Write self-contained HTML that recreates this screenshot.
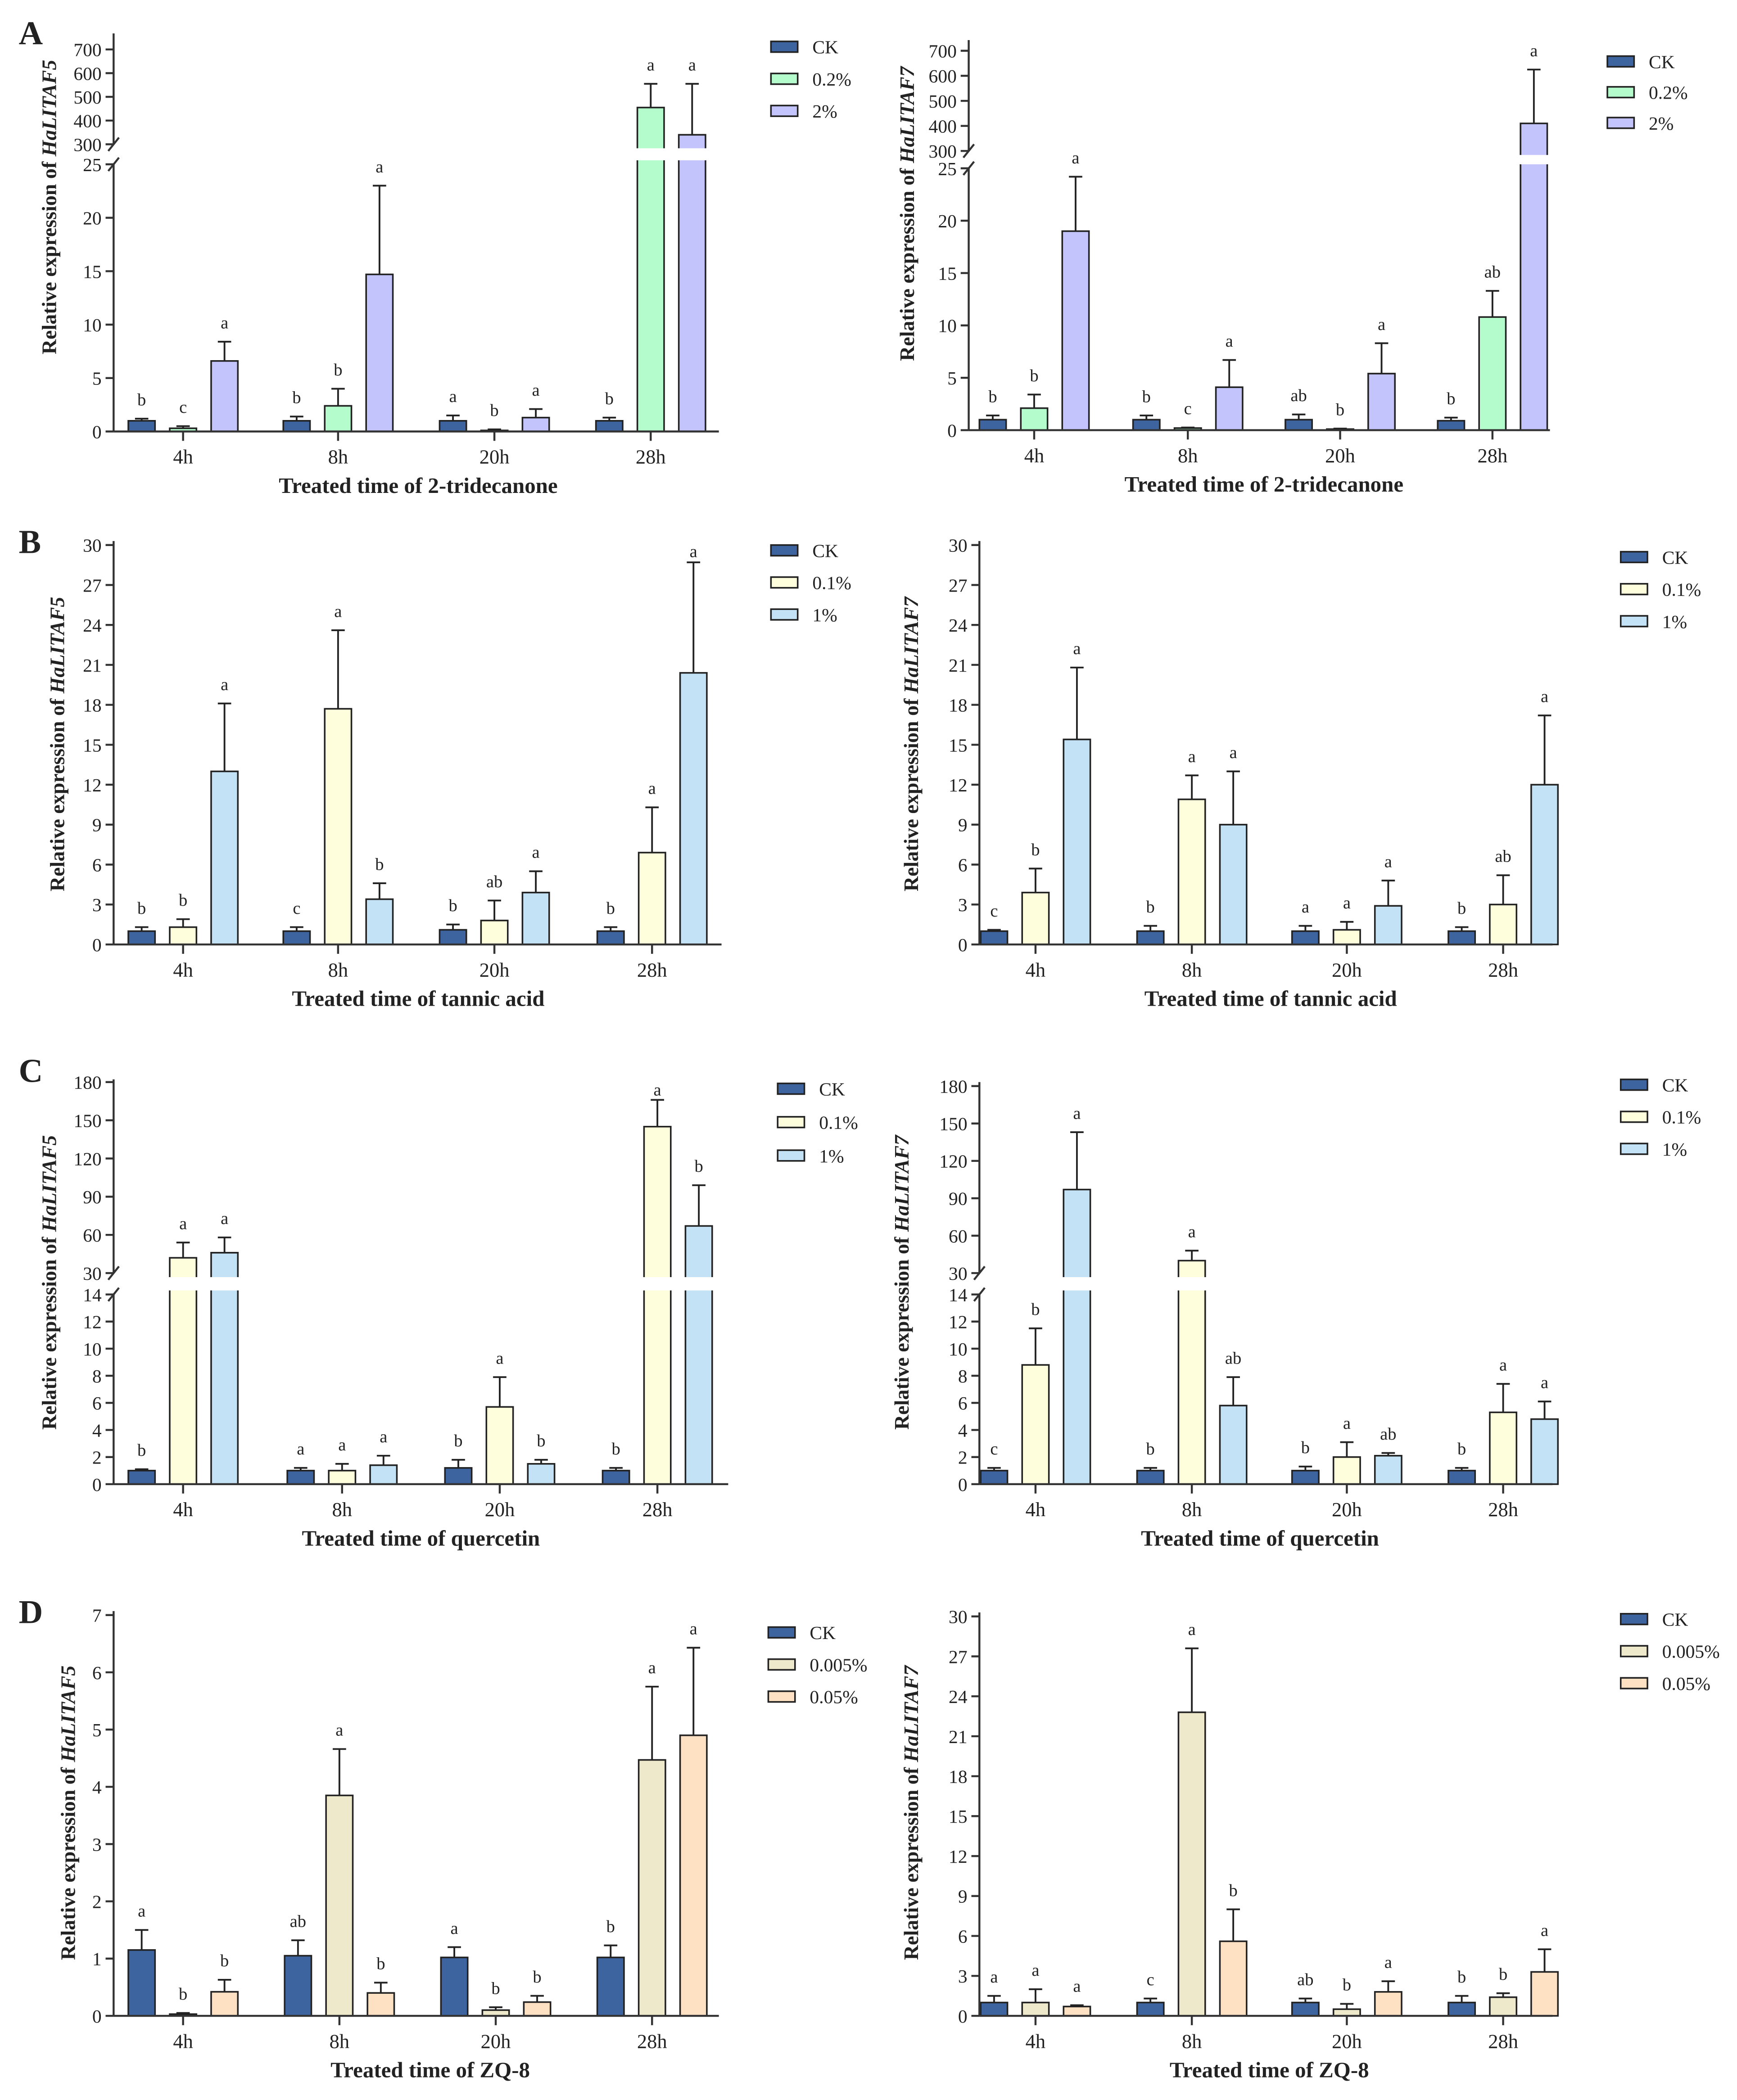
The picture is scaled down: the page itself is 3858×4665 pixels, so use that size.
<!DOCTYPE html>
<html><head><meta charset="utf-8"><style>
html,body{margin:0;padding:0;background:#fff}
svg{display:block}
text{font-family:"Liberation Serif",serif;fill:#222}
</style></head><body>
<svg id="fig" width="3858" height="4665" viewBox="0 0 1300 1572" xmlns="http://www.w3.org/2000/svg"></svg>
<script>
const timeLabels = ["4h","8h","20h","28h"];
// Panel A left (HaLITAF5, 2-tridecanone)
const a5Mean = [[1.0,1.0,1.0,1.0],[0.3,2.4,0.1,455],[6.6,14.7,1.3,340]];
const a5Err  = [[1.2,1.4,1.5,1.3],[0.5,4.0,0.2,555],[8.4,23,2.1,555]];
const a5Let  = [["b","b","a","b"],["c","b","b","a"],["a","a","a","a"]];
// Panel A right (HaLITAF7)
const a7Mean = [[1.0,1.0,1.0,0.9],[2.1,0.2,0.1,10.8],[19,4.1,5.4,410]];
const a7Err  = [[1.4,1.4,1.5,1.2],[3.4,0.25,0.15,13.3],[24.2,6.7,8.3,625]];
const a7Let  = [["b","b","ab","b"],["b","c","b","ab"],["a","a","a","a"]];
// Panel B left
const b5Mean = [[1.0,1.0,1.1,1.0],[1.3,17.7,1.8,6.9],[13.0,3.4,3.9,20.4]];
const b5Err  = [[1.3,1.3,1.5,1.3],[1.9,23.6,3.3,10.3],[18.1,4.6,5.5,28.7]];
const b5Let  = [["b","c","b","b"],["b","a","ab","a"],["a","b","a","a"]];
// Panel B right
const b7Mean = [[1.0,1.0,1.0,1.0],[3.9,10.9,1.1,3.0],[15.4,9.0,2.9,12.0]];
const b7Err  = [[1.1,1.4,1.4,1.3],[5.7,12.7,1.7,5.2],[20.8,13.0,4.8,17.2]];
const b7Let  = [["c","b","a","b"],["b","a","a","ab"],["a","a","a","a"]];
// Panel C left
const c5Mean = [[1.0,1.0,1.2,1.0],[42,1.0,5.7,145],[46,1.4,1.5,67]];
const c5Err  = [[1.1,1.2,1.8,1.2],[54,1.5,7.9,166],[58,2.1,1.8,99]];
const c5Let  = [["b","a","b","b"],["a","a","a","a"],["a","a","b","b"]];
// Panel C right
const c7Mean = [[1.0,1.0,1.0,1.0],[8.8,40,2.0,5.3],[97,5.8,2.1,4.8]];
const c7Err  = [[1.2,1.2,1.3,1.2],[11.5,48,3.1,7.4],[143,7.9,2.3,6.1]];
const c7Let  = [["c","b","b","b"],["b","a","a","a"],["a","ab","ab","a"]];
// Panel D left
const d5Mean = [[1.15,1.05,1.02,1.02],[0.03,3.85,0.1,4.47],[0.42,0.4,0.24,4.9]];
const d5Err  = [[1.5,1.32,1.2,1.23],[0.05,4.66,0.15,5.75],[0.63,0.58,0.35,6.43]];
const d5Let  = [["a","ab","a","b"],["b","a","b","a"],["b","b","b","a"]];
// Panel D right
const d7Mean = [[1.0,1.0,1.0,1.0],[1.0,22.8,0.5,1.4],[0.7,5.6,1.8,3.3]];
const d7Err  = [[1.5,1.3,1.3,1.5],[2.0,27.6,0.9,1.7],[0.8,8.0,2.6,5.0]];
const d7Let  = [["a","c","ab","b"],["a","a","b","b"],["a","b","a","a"]];

const ticksA_low = [0,5,10,15,20,25], ticksA_up = [300,400,500,600,700];
const ticksB = [0,3,6,9,12,15,18,21,24,27,30];
const ticksC_low = [0,2,4,6,8,10,12,14], ticksC_up = [30,60,90,120,150,180];
const ticksD5 = [0,1,2,3,4,5,6,7];
const ticksD7 = [0,3,6,9,12,15,18,21,24,27,30];

const NS="http://www.w3.org/2000/svg";
const svg=document.getElementById('fig');
function mk(tag,attrs,parent){const e=document.createElementNS(NS,tag);for(const k in attrs)e.setAttribute(k,attrs[k]);(parent||svg).appendChild(e);return e;}

function panel(p){
  const g=mk('g',{});
  
  
  function y(v){
    if(!p.up) return p.y0-(v-p.lowMin)*(p.y0-p.lowTopY)/(p.lowMax-p.lowMin);
    if(v<=p.lowMax) return p.y0-v*(p.y0-p.lowTopY)/p.lowMax;
    return p.upBotY-(v-p.upMin)*(p.upBotY-p.upTopY)/(p.upMax-p.upMin);
  }
  const cols=p.colors;
  for(let s=0;s<3;s++){
    for(let i=0;i<4;i++){
      const cx=p.groups[i]+(s-1)*p.off, w=20, v=p.mean[s][i], e=p.err[s][i];
      const top=y(v), L=cx-w/2, R=cx+w/2;
      if(p.up && v>p.lowMax){
        const gb=p.upBotY+3, gt=p.lowTopY-3;
        const b1=mk('rect',{x:L,y:gt,width:w,height:p.y0-gt,fill:cols[s],stroke:'none'},g);
        
        
        const b2=mk('rect',{x:L,y:top,width:w,height:gb-top,fill:cols[s],stroke:'none'},g);
        
        
        const o=mk('path',{d:`M${L} ${gt} V${p.y0} H${R} V${gt} M${L} ${gb} V${top} H${R} V${gb}`,fill:'none',stroke:'#222','stroke-width':1.2},g);
        
        
      } else {
        const b=mk('rect',{x:L,y:top,width:w,height:Math.max(0.5,p.y0-top),fill:cols[s],stroke:'#222','stroke-width':1.2},g);
        
        
      }
      const et=y(e);
      const eb=mk('path',{d:`M${cx} ${top} V${et} M${cx-5} ${et} H${cx+5}`,stroke:'#222','stroke-width':1.3,fill:'none'},g);
      
      
      let ly=Math.max(et-10,p.topY+12);
      const lt=mk('text',{x:cx,y:ly,'text-anchor':'middle','font-size':13},g);
      lt.textContent=p.letters[s][i];
      
      
    }
  }
  const ax=mk('g',{stroke:'#333','stroke-width':1.5,fill:'none'},g);
  
  
  if(p.up){
    mk('path',{d:`M${p.x0} ${p.y0} V${p.lowTopY} M${p.x0} ${p.upBotY} V${p.topY}`},ax);
    mk('path',{d:`M${p.x0-4} ${p.upBotY+5} L${p.x0+4} ${p.upBotY-5} M${p.x0-4} ${p.lowTopY+5} L${p.x0+4} ${p.lowTopY-5}`},ax);
  } else mk('path',{d:`M${p.x0} ${p.y0} V${p.topY}`},ax);
  mk('path',{d:`M${p.x0} ${p.y0} H${p.x1}`},ax);
  const allT=p.ticks.concat(p.ticksUp||[]);
  allT.forEach(t=>{
    const yy=y(t);
    mk('path',{d:`M${p.x0-6} ${yy} H${p.x0}`},ax);
    const tx=mk('text',{x:p.x0-9,y:yy+5,'text-anchor':'end','font-size':14,stroke:'none'},g);
    tx.textContent=t;
    
    
  });
  timeLabels.forEach((l,i)=>{
    mk('path',{d:`M${p.groups[i]} ${p.y0} V${p.y0+7}`},ax);
    const tx=mk('text',{x:p.groups[i],y:p.y0+24,'text-anchor':'middle','font-size':15},g);
    tx.textContent=l;
    
    
  });
  const xt=mk('text',{x:p.xtX,y:p.y0+46,'text-anchor':'middle','font-size':16.5,'font-weight':'bold'},g);
  xt.textContent=p.xTitle;
  
  
  const yt=mk('text',{x:0,y:0,'text-anchor':'middle','font-size':15.5,'font-weight':'bold',transform:`translate(${p.ytX},${p.ytY}) rotate(-90)`},g);
  
  
  yt.appendChild(document.createTextNode('Relative expression of '));
  const ts=mk('tspan',{'font-style':'italic'},yt); ts.textContent=p.gene;
  for(let s=0;s<3;s++){
    const ly=p.legY+s*p.legGap;
    const r=mk('rect',{x:p.legX,y:ly-4,width:20,height:8,fill:cols[s],stroke:'#222','stroke-width':1.2},g);
    
    
    const t=mk('text',{x:p.legX+31,y:ly+5,'font-size':14},g);
    t.textContent=p.seriesLabels[s];
    
    
  }
  if(p.letter){
    const Lb=mk('text',{x:p.letter[0],y:p.letter[1],'font-size':25,'font-weight':'bold'},g);
    Lb.textContent=p.letter[2];
    
    
  }
}
const CK='#3e64a0';
const colA=[CK,'#b4fccc','#c4c4fc'], colB=[CK,'#fefedc','#c4e2f6'], colD=[CK,'#efe9cc','#fee0c2'];
const offs=31;
panel({name:'panel-a-taf5',x0:85,x1:538,y0:323,topY:25,lowMin:0,lowMax:25,lowTopY:123,up:true,upMin:300,upMax:700,upBotY:108,upTopY:37,
  ticks:ticksA_low,ticksUp:ticksA_up,groups:[137,253,370,487],off:offs,mean:a5Mean,err:a5Err,letters:a5Let,colors:colA,
  series:['ck','0.2','2'],seriesLabels:['CK','0.2%','2%'],legX:577,legY:35,legGap:24,xTitle:'Treated time of 2-tridecanone',xtX:313,ytX:42,ytY:155,gene:'HaLITAF5',letter:[14,33,'A']});
panel({name:'panel-a-taf7',x0:725,x1:1160,y0:322,topY:30,lowMin:0,lowMax:25,lowTopY:126,up:true,upMin:300,upMax:700,upBotY:113,upTopY:38,
  ticks:ticksA_low,ticksUp:ticksA_up,groups:[774,889,1003,1117],off:offs,mean:a7Mean,err:a7Err,letters:a7Let,colors:colA,
  series:['ck','0.2','2'],seriesLabels:['CK','0.2%','2%'],legX:1203,legY:46,legGap:23,xTitle:'Treated time of 2-tridecanone',xtX:946,ytX:684,ytY:160,gene:'HaLITAF7'});
panel({name:'panel-b-taf5',x0:85,x1:540,y0:707,topY:405,lowMin:0,lowMax:30,lowTopY:408,
  ticks:ticksB,groups:[137,253,370,488],off:offs,mean:b5Mean,err:b5Err,letters:b5Let,colors:colB,
  series:['ck','0.1','1'],seriesLabels:['CK','0.1%','1%'],legX:577,legY:412,legGap:24,xTitle:'Treated time of tannic acid',xtX:313,ytX:48,ytY:557,gene:'HaLITAF5',letter:[14,414,'B']});
panel({name:'panel-b-taf7',x0:733,x1:1162,y0:707,topY:405,lowMin:0,lowMax:30,lowTopY:408,
  ticks:ticksB,groups:[775,892,1008,1125],off:offs,mean:b7Mean,err:b7Err,letters:b7Let,colors:colB,
  series:['ck','0.1','1'],seriesLabels:['CK','0.1%','1%'],legX:1213,legY:417,legGap:24,xTitle:'Treated time of tannic acid',xtX:951,ytX:687,ytY:557,gene:'HaLITAF7'});
panel({name:'panel-c-taf5',x0:85,x1:545,y0:1111,topY:808,lowMin:0,lowMax:14,lowTopY:969,up:true,upMin:30,upMax:180,upBotY:953,upTopY:810,
  ticks:ticksC_low,ticksUp:ticksC_up,groups:[137,256,374,492],off:offs,mean:c5Mean,err:c5Err,letters:c5Let,colors:colB,
  series:['ck','0.1','1'],seriesLabels:['CK','0.1%','1%'],legX:582,legY:815,legGap:25,xTitle:'Treated time of quercetin',xtX:315,ytX:42,ytY:960,gene:'HaLITAF5',letter:[14,810,'C']});
panel({name:'panel-c-taf7',x0:733,x1:1162,y0:1111,topY:810,lowMin:0,lowMax:14,lowTopY:969,up:true,upMin:30,upMax:180,upBotY:953,upTopY:813,
  ticks:ticksC_low,ticksUp:ticksC_up,groups:[775,892,1008,1125],off:offs,mean:c7Mean,err:c7Err,letters:c7Let,colors:colB,
  series:['ck','0.1','1'],seriesLabels:['CK','0.1%','1%'],legX:1213,legY:812,legGap:24,xTitle:'Treated time of quercetin',xtX:943,ytX:680,ytY:960,gene:'HaLITAF7'});
panel({name:'panel-d-taf5',x0:85,x1:538,y0:1509,topY:1206,lowMin:0,lowMax:7,lowTopY:1209,
  ticks:ticksD5,groups:[137,254,371,488],off:offs,mean:d5Mean,err:d5Err,letters:d5Let,colors:colD,
  series:['ck','0.005','0.05'],seriesLabels:['CK','0.005%','0.05%'],legX:575,legY:1222,legGap:24,xTitle:'Treated time of ZQ-8',xtX:322,ytX:56,ytY:1357,gene:'HaLITAF5',letter:[14,1215,'D']});
panel({name:'panel-d-taf7',x0:733,x1:1162,y0:1509,topY:1207,lowMin:0,lowMax:30,lowTopY:1210,
  ticks:ticksD7,groups:[775,892,1008,1125],off:offs,mean:d7Mean,err:d7Err,letters:d7Let,colors:colD,
  series:['ck','0.005','0.05'],seriesLabels:['CK','0.005%','0.05%'],legX:1213,legY:1212,legGap:24,xTitle:'Treated time of ZQ-8',xtX:950,ytX:687,ytY:1357,gene:'HaLITAF7'});
</script>
</body></html>
